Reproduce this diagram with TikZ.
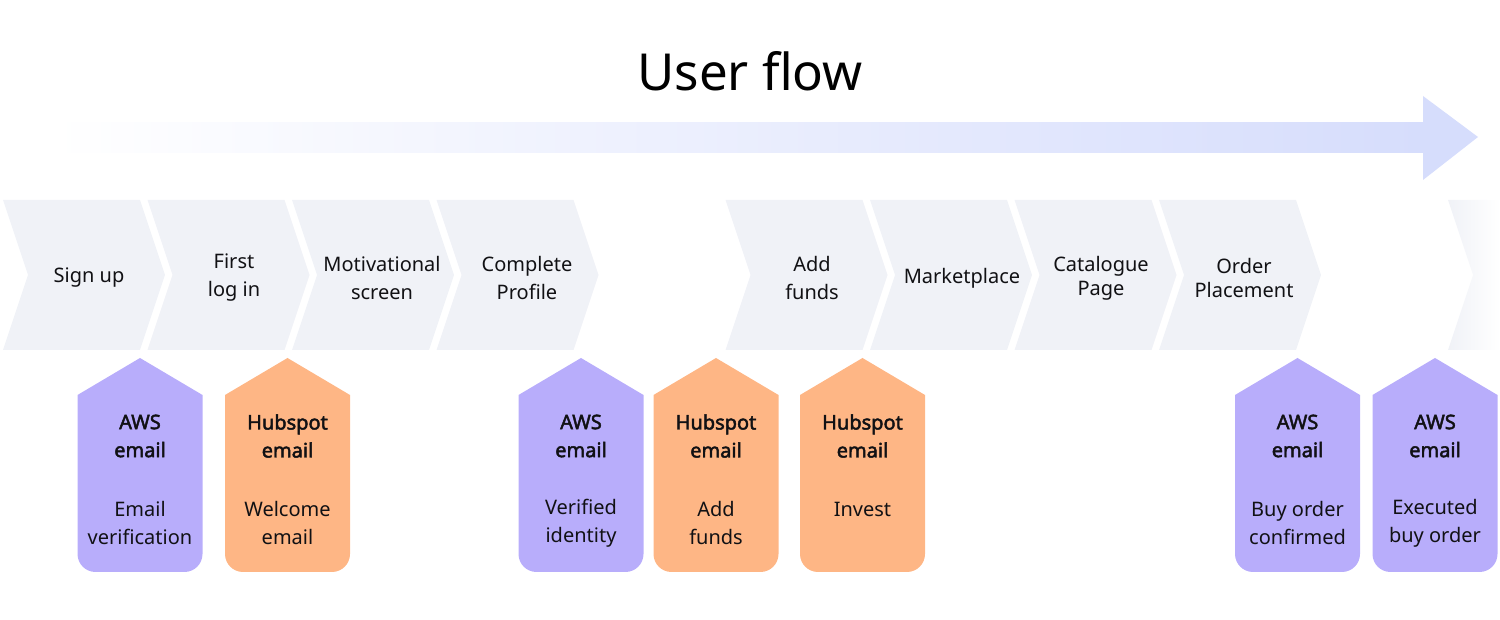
\documentclass[tikz,border=0pt]{standalone}
\usepackage{fontspec}
\setmainfont{Noto Sans}
\newfontfamily\hdfont{Noto Sans}[FakeBold=2.2]
\definecolor{chev}{RGB}{240,242,247}
\definecolor{tagpurple}{RGB}{184,173,251}
\definecolor{tagorange}{RGB}{254,182,133}
\definecolor{arrowc}{RGB}{214,221,252}
\definecolor{ink}{RGB}{17,17,20}
\newcommand\mychev[1]{\fill[chev] (#1,420) -- ++(137,0) -- ++(25,-75) -- ++(-25,-75) -- ++(-137,0) -- ++(25,75) -- cycle;}
\newcommand\mytag[2]{\fill[#2] (#1,262) -- ({#1+62.5},225) -- ({#1+62.5},66) arc[start angle=0,end angle=-90,radius=18] -- ({#1-44.5},48) arc[start angle=270,end angle=180,radius=18] -- ({#1-62.5},225) -- cycle;}
\begin{document}
\begin{tikzpicture}[x=1pt,y=1pt,
  lab/.style={font=\fontsize{20}{28}\selectfont, text=ink, align=center, inner sep=0pt},
  labtight/.style={font=\fontsize{20}{24}\selectfont, text=ink, align=center, inner sep=0pt},
  hd/.style={font=\hdfont\fontsize{20}{28}\selectfont, text=ink, align=center, inner sep=0pt},
  titlestyle/.style={font=\fontsize{51}{60}\selectfont, text=black, inner sep=0pt}]
\useasboundingbox (0,0) rectangle (1500,620);
% title
\node[titlestyle] (title) at (750,549) {User flow};
% big arrow
\shade[left color=white, right color=arrowc] (50,467) rectangle (1424,497);
\fill[arrowc] (1423,524) -- (1478,483) -- (1423,440) -- cycle;
% chevrons
\mychev{3}
\mychev{147.5}
\mychev{292}
\mychev{436.5}
\mychev{725.5}
\mychev{870}
\mychev{1014.5}
\mychev{1159}
\begin{scope}
\clip (1448,420) -- ++(137,0) -- ++(25,-75) -- ++(-25,-75) -- ++(-137,0) -- ++(25,75) -- cycle;
\shade[left color=chev, right color=white] (1448,270) rectangle (1500,420);
\end{scope}
\node[lab] (s1) at (89,342) {Sign up};
\node[lab] (s2) at (234,342) {First\\log in};
\node[lab] (s3) at (382,342) {Motivational\\screen};
\node[lab] (s4) at (527,342) {Complete\\Profile};
\node[lab] (s5) at (812,342) {Add\\funds};
\node[lab] (s6) at (962,342) {Marketplace};
\node[labtight] (s7) at (1101,342) {Catalogue\\Page};
\node[labtight] (s8) at (1244,342) {Order\\Placement};
% tags
\mytag{140}{tagpurple}
\mytag{287.5}{tagorange}
\mytag{581}{tagpurple}
\mytag{716}{tagorange}
\mytag{862.5}{tagorange}
\mytag{1297.5}{tagpurple}
\mytag{1435}{tagpurple}
\node[hd] (t1h) at (140,184) {AWS\\email};
\node[lab] (t1d) at (140,96.5) {Email\\verification};
\node[hd] (t2h) at (287.5,184) {Hubspot\\email};
\node[lab] (t2d) at (287.5,96.5) {Welcome\\email};
\node[hd] (t3h) at (581,184) {AWS\\email};
\node[lab] (t3d) at (581,96.5) {Verified\\identity};
\node[hd] (t4h) at (716,184) {Hubspot\\email};
\node[lab] (t4d) at (716,96.5) {Add\\funds};
\node[hd] (t5h) at (862.5,184) {Hubspot\\email};
\node[lab] (t5d) at (862.5,111) {Invest};
\node[hd] (t6h) at (1297.5,184) {AWS\\email};
\node[lab] (t6d) at (1297.5,96.5) {Buy order\\confirmed};
\node[hd] (t7h) at (1435,184) {AWS\\email};
\node[lab] (t7d) at (1435,96.5) {Executed\\buy order};
\end{tikzpicture}
\end{document}
